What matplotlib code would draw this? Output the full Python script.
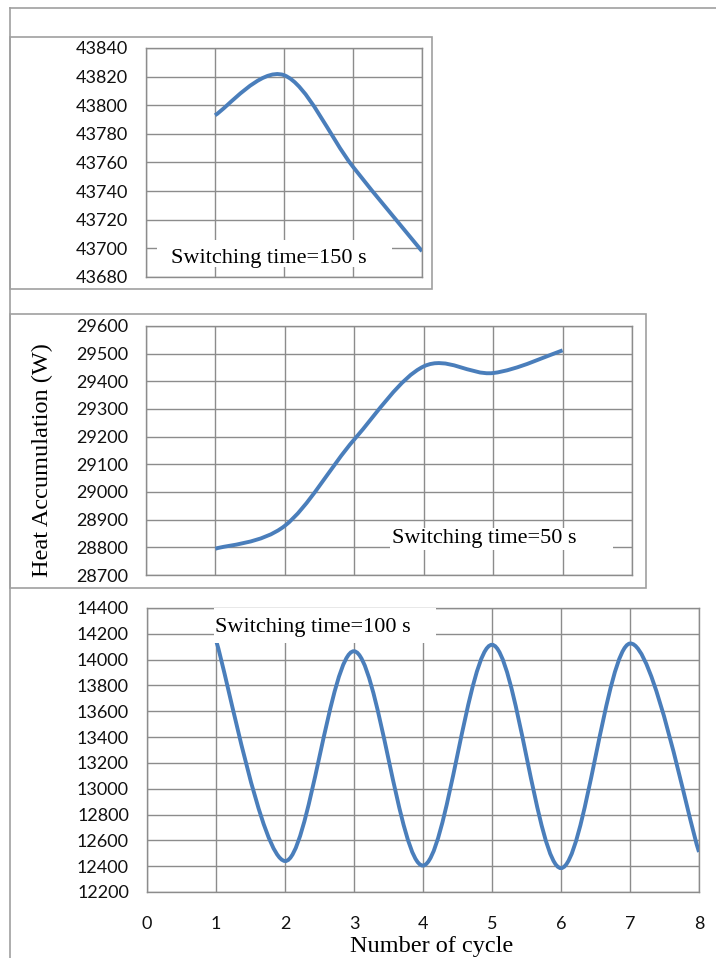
import numpy as np
import matplotlib
matplotlib.use("Agg")
import matplotlib.pyplot as plt
from matplotlib.path import Path
from matplotlib.patches import PathPatch, Rectangle
from matplotlib.lines import Line2D

# switching time = 150 s
cycles150 = [1, 2, 3, 4]
heat150 = [43793, 43821, 43757, 43698]
ticks150 = list(range(43680, 43841, 20))

# switching time = 50 s
cycles50 = [1, 2, 3, 4, 5, 6]
heat50 = [28795, 28878, 29190, 29454, 29430, 29512]
ticks50 = list(range(28700, 29601, 100))

# switching time = 100 s
cycles100 = [1, 2, 3, 4, 5, 6, 7, 8]
heat100 = [14150, 12440, 14065, 12405, 14115, 12385, 14125, 12510]
ticks100 = list(range(12200, 14401, 200))

LINE_COLOR = "#4a7ebb"
GRID_COLOR = "#8c8c8c"
FRAME_COLOR = "#a0a0a0"
TICK_FONT = "Lato"
TEXT_FONT = "Liberation Serif"

W, H = 716, 958


def smoothPath(xs, ys):
    # excel-like smoothed line: cubic bezier segments, catmull-rom tangents
    pts = np.column_stack([xs, ys]).astype(float)
    n = len(pts)
    verts = [pts[0]]
    codes = [Path.MOVETO]
    for i in range(n - 1):
        p0 = pts[max(i - 1, 0)]
        p1 = pts[i]
        p2 = pts[i + 1]
        p3 = pts[min(i + 2, n - 1)]
        c1 = p1 + (p2 - p0) / 6.0
        c2 = p2 - (p3 - p1) / 6.0
        verts += [c1, c2, p2]
        codes += [Path.CURVE4] * 3
    return Path(verts, codes)


def axRect(left, top, right, bottom):
    # pixel box -> figure fraction
    return [left / W, 1 - bottom / H, (right - left) / W, (bottom - top) / H]


def setupAxes(ax, xmax, yticks, showX=False):
    ax.set_xlim(0, xmax)
    ax.set_ylim(yticks[0], yticks[-1])
    ax.set_yticks(yticks)
    ax.set_xticks(range(0, xmax + 1))
    ax.grid(True, color=GRID_COLOR, linewidth=1.0)
    ax.set_axisbelow(True)
    for s in ax.spines.values():
        s.set_color(GRID_COLOR)
        s.set_linewidth(1.0)
    ax.tick_params(axis="y", length=0, pad=13, labelsize=13)
    ax.tick_params(axis="x", length=0, pad=17, labelsize=13)
    if not showX:
        ax.set_xticklabels([])
    for lab in ax.get_yticklabels() + ax.get_xticklabels():
        lab.set_fontfamily(TICK_FONT)
        lab.set_color("#111111")


def drawSeries(ax, xs, ys):
    patch = PathPatch(smoothPath(xs, ys), facecolor="none", edgecolor=LINE_COLOR,
                      linewidth=2.8, zorder=3, capstyle="butt")
    ax.add_patch(patch)


def labelBox(ax, box, textPos, text):
    ax.add_patch(Rectangle((box[0], box[1]), box[2], box[3], transform=ax.transAxes,
                           facecolor="white", edgecolor="none", zorder=4, clip_on=False))
    ax.text(textPos[0], textPos[1], text, transform=ax.transAxes, fontsize=16,
            family=TEXT_FONT, ha="left", va="baseline", zorder=5)


fig = plt.figure(figsize=(W / 100, H / 100), dpi=100)

# outer frames
fig.add_artist(Line2D([10 / W, 1], [1 - 8 / H, 1 - 8 / H], color=FRAME_COLOR, lw=1.2))
fig.add_artist(Line2D([10 / W, 10 / W], [1 - 8 / H, 0], color=FRAME_COLOR, lw=1.2))
for (l, t, r, b) in [(10, 37, 432, 289), (10, 314, 646, 588)]:
    fig.add_artist(Rectangle((l / W, 1 - b / H), (r - l) / W, (b - t) / H,
                             facecolor="none", edgecolor=FRAME_COLOR, lw=1.2))

ax1 = fig.add_axes(axRect(146, 48, 422, 277))
setupAxes(ax1, 4, ticks150)
drawSeries(ax1, cycles150, heat150)
labelBox(ax1, (0.040, 0.044, 0.851, 0.118), (0.091, 0.061), "Switching time=150 s")

ax2 = fig.add_axes(axRect(146, 326, 632, 575))
setupAxes(ax2, 7, ticks50)
drawSeries(ax2, cycles50, heat50)
labelBox(ax2, (0.502, 0.100, 0.459, 0.090), (0.506, 0.128), "Switching time=50 s")

ax3 = fig.add_axes(axRect(147, 608, 699, 892))
setupAxes(ax3, 8, ticks100, showX=True)
drawSeries(ax3, cycles100, heat100)
labelBox(ax3, (0.122, 0.877, 0.401, 0.123), (0.124, 0.9155), "Switching time=100 s")

fig.text(42 / W, 1 - 460 / H, "Heat Accumulation (W)", rotation=90, family=TEXT_FONT,
         fontsize=17.5, ha="center", va="center")
fig.text(432 / W, 1 - 952 / H, "Number of cycle", family=TEXT_FONT, fontsize=17.5,
         ha="center", va="baseline")

fig.savefig("out.png", dpi=100)
